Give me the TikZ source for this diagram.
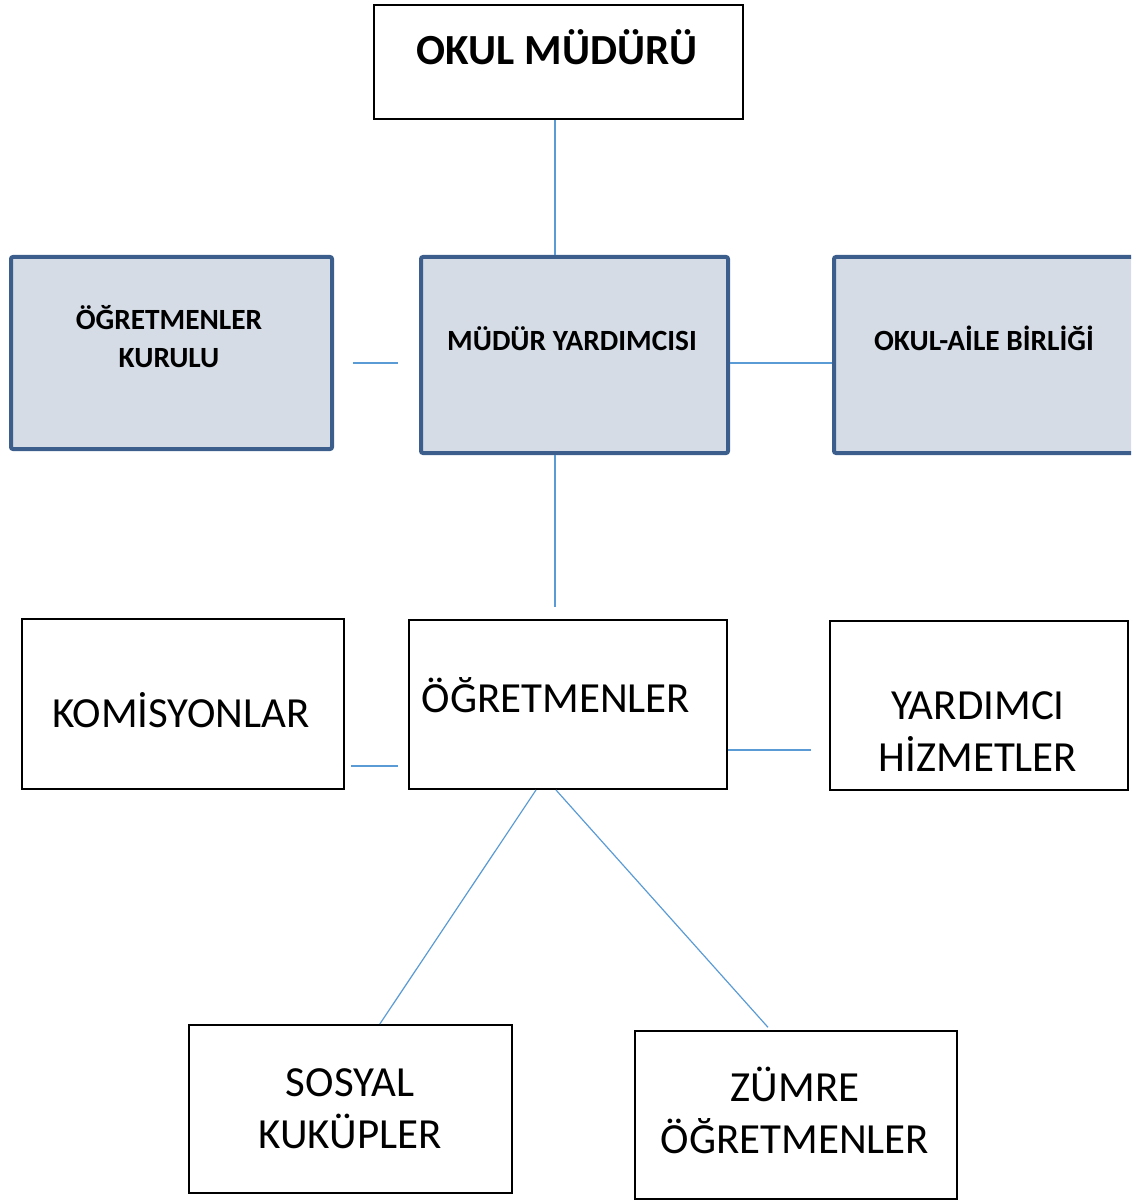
\documentclass[tikz,border=0pt]{standalone}
\usepackage{fontspec}
\setmainfont{Carlito}
\usetikzlibrary{positioning}
\definecolor{frameblue}{HTML}{3B5E8C}
\definecolor{fillblue}{HTML}{D5DCE5}
\definecolor{linkblue}{HTML}{5B9BD5}
\tikzset{
  plainbox/.style={rectangle, draw=black, line width=1.5pt, fill=white,
    anchor=north west, inner sep=0pt},
  unitbox/.style={rectangle, draw=frameblue, line width=3pt, fill=fillblue,
    rounded corners=1.5pt, anchor=north west, inner sep=0pt},
  txt/.style={font=\fontsize{32.2}{39}\selectfont, align=center, inner sep=0pt, anchor=base},
  txtb/.style={font=\fontsize{22}{29}\selectfont\bfseries, align=center, inner sep=0pt, anchor=base},
  ttl/.style={font=\fontsize{32.2}{39}\selectfont\bfseries, inner sep=0pt, anchor=base},
  link/.style={draw=linkblue, line width=0.9pt},
}
\begin{document}
\begin{tikzpicture}[x=0.75pt, y=-0.75pt]
  \useasboundingbox (0,0) rectangle (1131,1201);
  \clip (0,0) rectangle (1131,1201);
  % boxes
  \node[plainbox, minimum width=276.75pt, minimum height=85.5pt] (mudur) at (373,4) {};
  \node[unitbox, minimum width=240.75pt, minimum height=144pt] (kurul) at (9,255) {};
  \node[unitbox, minimum width=230.25pt, minimum height=147pt] (yard) at (419,255) {};
  \node[unitbox, minimum width=232.5pt, minimum height=147pt] (aile) at (832,255) {};
  \node[plainbox, minimum width=241.5pt, minimum height=127.5pt] (komis) at (21,618) {};
  \node[plainbox, minimum width=238.5pt, minimum height=126.75pt] (ogret) at (408,619) {};
  \node[plainbox, minimum width=223.5pt, minimum height=126.75pt] (hizmet) at (829,620) {};
  \node[plainbox, minimum width=242.25pt, minimum height=126pt] (sosyal) at (188,1024) {};
  \node[plainbox, minimum width=241.5pt, minimum height=126pt] (zumre) at (634,1030) {};
  % texts (base = last line)
  \node[ttl] (mudurtxt) at (557,65) {OKUL MÜDÜRÜ};
  \node[txtb] (kurultxt) at (169,368) {ÖĞRETMENLER\\KURULU};
  \node[txtb] (yardtxt) at (572,350) {MÜDÜR YARDIMCISI};
  \node[txtb] (ailetxt) at (984,350) {OKUL-AİLE BİRLİĞİ};
  \node[txt] (komistxt) at (181,727) {KOMİSYONLAR};
  \node[txt] (ogrettxt) at (556,712) {ÖĞRETMENLER};
  \node[txt] (hizmettxt) at (978,771) {YARDIMCI\\HİZMETLER};
  \node[txt] (sosyaltxt) at (350,1148) {SOSYAL\\KUKÜPLER};
  \node[txt] (zumretxt) at (795,1153) {ZÜMRE\\ÖĞRETMENLER};
  % connectors
  \coordinate (spine) at (555,0);
  \coordinate (midrow) at (0,363);
  \coordinate (lowrowl) at (0,766);
  \coordinate (lowrowr) at (0,750);
  \draw[link] (mudur.south -| spine) -- (yard.north -| spine);
  \draw[link, shorten <=14.25pt, shorten >=15.75pt] (kurul.east |- midrow) -- (yard.west |- midrow);
  \draw[link] (yard.east |- midrow) -- (aile.west |- midrow);
  \draw[link, shorten >=9pt] (yard.south -| spine) -- (ogret.north -| spine);
  \draw[link, shorten <=4.5pt, shorten >=7.5pt] (komis.east |- lowrowl) -- (ogret.west |- lowrowl);
  \draw[link, shorten >=13.5pt] (ogret.east |- lowrowr) -- (hizmet.west |- lowrowr);
  \draw[link] ([xshift=-24pt]ogret.south) -- ([xshift=22pt]sosyal.north);
  \draw[link] ([xshift=-9pt]ogret.south) -- ([xshift=-21pt, yshift=2pt]zumre.north);
\end{tikzpicture}
\end{document}
